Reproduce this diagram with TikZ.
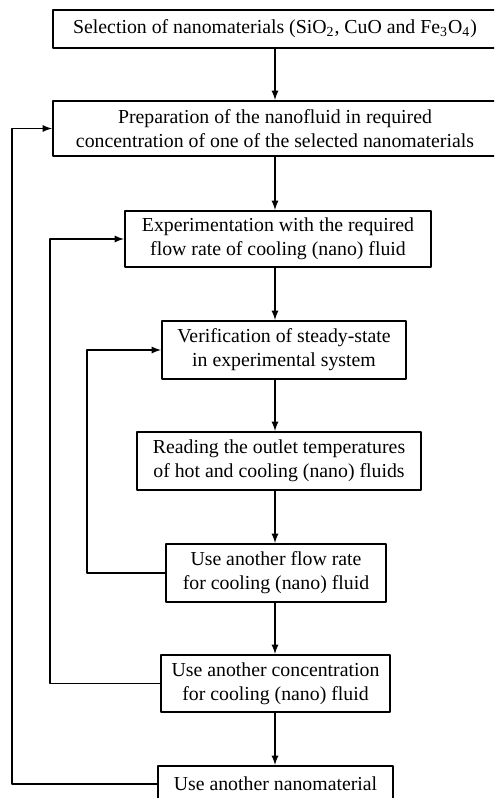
\documentclass[tikz,border=0pt]{standalone}
\usepackage{fontspec}
\setmainfont{Liberation Serif}
\begin{document}
\begin{tikzpicture}[x=0.5pt, y=-0.5pt, line join=round, >=latex,
	stage/.style={draw, line width=1.1pt, align=center, inner sep=0pt, font=\fontsize{9.9}{12}\selectfont},
	flow/.style={->, line width=0.6pt}]
	\useasboundingbox (0,0) rectangle (494,798);
	\clip (0,0) rectangle (494,798);
	\path
	(275,0) coordinate (axis)
	(12,0) coordinate (R1)
	(50,0) coordinate (R2)
	(87,0) coordinate (R3)
	;
	\node[stage, minimum width=222pt, minimum height=19pt] (sel) at (275,29)
		{Selection of nanomaterials (SiO\textsubscript{2}, CuO and Fe\textsubscript{3}O\textsubscript{4})};
	\node[stage, minimum width=222pt, minimum height=27.5pt] (prep) at (275,128.5)
		{Preparation of the nanofluid in required\\concentration of one of the selected nanomaterials};
	\node[stage, minimum width=153pt, minimum height=28pt] (exper) at (278,239)
		{Experimentation with the required\\flow rate of cooling (nano) fluid};
	\node[stage, minimum width=122pt, minimum height=29pt] (verif) at (284,350)
		{Verification of steady-state\\in experimental system};
	\node[stage, minimum width=142pt, minimum height=29pt] (read) at (279,461)
		{Reading the outlet temperatures\\of hot and cooling (nano) fluids};
	\node[stage, minimum width=110pt, minimum height=29pt] (rate) at (276,573)
		{Use another flow rate\\for cooling (nano) fluid};
	\node[stage, minimum width=114.5pt, minimum height=28.5pt] (conc) at (275.5,683.5)
		{Use another concentration\\for cooling (nano) fluid};
	\node[stage, minimum width=117.5pt, minimum height=18pt] (mat) at (275.5,784)
		{Use another nanomaterial};
	% main chain
	\draw[flow] (sel.south -| axis) -- (prep.north -| axis);
	\draw[flow] (prep.south -| axis) -- (exper.north -| axis);
	\draw[flow] (exper.south -| axis) -- (verif.north -| axis);
	\draw[flow] (verif.south -| axis) -- (read.north -| axis);
	\draw[flow] (read.south -| axis) -- (rate.north -| axis);
	\draw[flow] (rate.south -| axis) -- (conc.north -| axis);
	\draw[flow] (conc.south -| axis) -- (mat.north -| axis);
	% loops back
	\draw[flow] (rate.west) -- (rate.west -| R3) |- (verif.west);
	\draw[flow] (conc.west) -- (conc.west -| R2) |- (exper.west);
	\draw[flow] (mat.west) -- (mat.west -| R1) |- (prep.west);
\end{tikzpicture}
\end{document}
